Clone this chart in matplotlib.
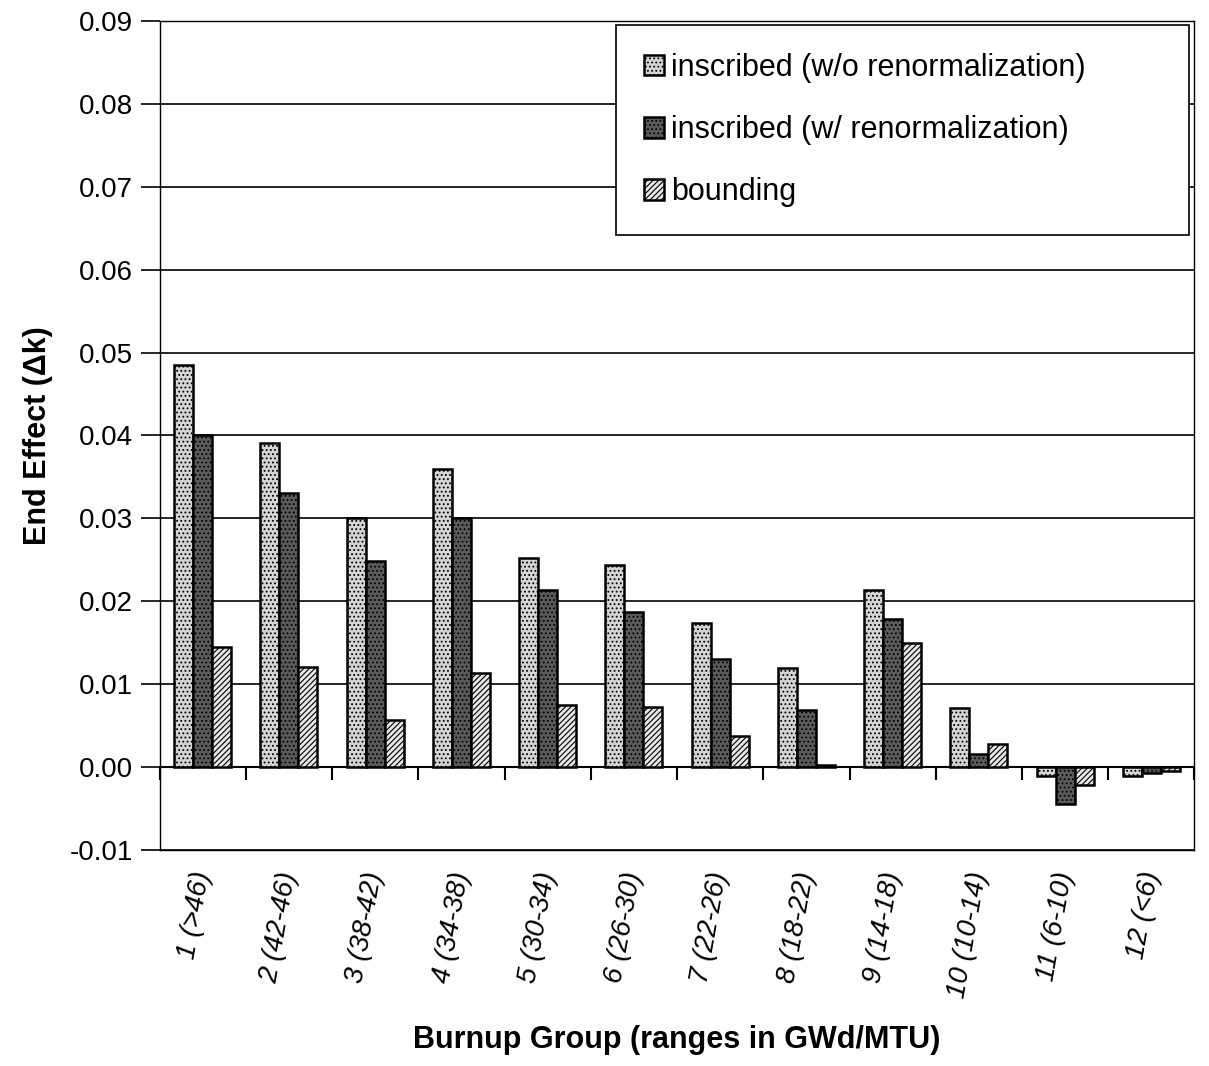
import numpy as np
import matplotlib.pyplot as plt

plt.rcParams['font.family'] = ['Liberation Sans', 'DejaVu Sans']
plt.rcParams['hatch.linewidth'] = 0.8

groups = ['1 (>46)', '2 (42-46)', '3 (38-42)', '4 (34-38)', '5 (30-34)', '6 (26-30)',
          '7 (22-26)', '8 (18-22)', '9 (14-18)', '10 (10-14)', '11 (6-10)', '12 (<6)']

# end effect (delta k)
wo_renorm = [0.0485, 0.0391, 0.0300, 0.0360, 0.0252, 0.0244,
             0.0174, 0.0119, 0.0213, 0.0071, -0.0011, -0.0011]
w_renorm = [0.0400, 0.0331, 0.0248, 0.0300, 0.0214, 0.0187,
            0.0130, 0.0068, 0.0179, 0.0015, -0.0045, -0.0008]
bounding = [0.0145, 0.0120, 0.0057, 0.0113, 0.0074, 0.0072,
            0.0037, 0.0002, 0.0150, 0.0028, -0.0022, -0.0005]

series = [
    ('inscribed (w/o renormalization)', wo_renorm, '#d4d4d4', '....'),
    ('inscribed (w/ renormalization)', w_renorm, '#5a5a5a', '....'),
    ('bounding', bounding, '#e6e6e6', '//////'),
]

fig = plt.figure(figsize=(12.09, 10.66), dpi=100)
ax = fig.add_axes([0.132, 0.203, 0.856, 0.777])

x = np.arange(len(groups))
width = 0.22
for i, (name, vals, fc, hatch) in enumerate(series):
    ax.bar(x + (i - 1) * width, vals, width, color=fc, edgecolor='black',
           hatch=hatch, linewidth=1.8, label=name, zorder=3)

ax.set_xlim(-0.5, len(groups) - 0.5)
ax.set_ylim(-0.01, 0.09)
yt = np.arange(-0.01, 0.0901, 0.01)
ax.set_yticks(yt)
ax.set_yticklabels(['%.2f' % v for v in yt], fontsize=20)
ax.yaxis.grid(True, color='black', linewidth=1.2, zorder=0)
ax.tick_params(axis='y', direction='out', length=14, width=1.2, pad=5)

ax.set_xticks(x)
ax.set_xticklabels(groups, rotation=80, fontsize=20, style='italic',
                   ha='right', va='center', rotation_mode='anchor')
ax.tick_params(axis='x', length=0, pad=16)

# category boundary ticks along the zero line
zero_axis = ax.secondary_xaxis(0.1)
zero_axis.set_xticks(np.arange(len(groups) + 1) - 0.5)
zero_axis.tick_params(axis='x', direction='out', length=9, width=1.5, labelbottom=False)
zero_axis.spines['bottom'].set_linewidth(1.5)

for s in ax.spines.values():
    s.set_linewidth(1.0)

ax.set_ylabel('End Effect (\u0394k)', fontsize=22, fontweight='bold', labelpad=12)
ax.set_xlabel('Burnup Group (ranges in GWd/MTU)', fontsize=22, fontweight='bold', labelpad=18)

leg = ax.legend(loc='upper left', fontsize=22, frameon=True, fancybox=False,
                edgecolor='black', framealpha=1, handlelength=0.65, handleheight=0.65,
                handletextpad=0.25, labelspacing=1.05, borderpad=0.9, borderaxespad=0,
                bbox_to_anchor=(0.4415, 0.744, 0.5535, 0.251), mode='expand')
leg.get_frame().set_linewidth(1.2)

fig.savefig('out.png', dpi=100, facecolor='white')
